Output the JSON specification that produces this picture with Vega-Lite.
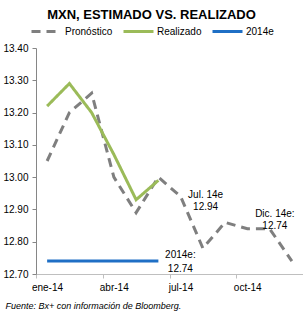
{
  "$schema": "https://vega.github.io/schema/vega-lite/v6.json",
  "width": 267,
  "height": 226,
  "autosize": {"type": "none"},
  "padding": {"left": 36, "top": 48, "right": 0, "bottom": 37},
  "background": "white",
  "config": {
    "font": "Liberation Sans",
    "view": {"stroke": null},
    "axis": {"labelFont": "Liberation Sans", "labelColor": "#000000", "labelFontSize": 10, "grid": false, "labelOverlap": false}
  },
  "title": {
    "text": "MXN, ESTIMADO VS. REALIZADO",
    "font": "Liberation Sans",
    "fontSize": 13,
    "fontWeight": "bold",
    "color": "#000000",
    "anchor": "middle",
    "frame": "group",
    "dx": -18,
    "dy": 11,
    "offset": 4
  },
  "datasets": {
    "series": [
      {"mes": 1, "serie": "Pronóstico", "valor": 13.05},
      {"mes": 2, "serie": "Pronóstico", "valor": 13.20},
      {"mes": 3, "serie": "Pronóstico", "valor": 13.26},
      {"mes": 4, "serie": "Pronóstico", "valor": 13.00},
      {"mes": 5, "serie": "Pronóstico", "valor": 12.89},
      {"mes": 6, "serie": "Pronóstico", "valor": 13.00},
      {"mes": 7, "serie": "Pronóstico", "valor": 12.94},
      {"mes": 8, "serie": "Pronóstico", "valor": 12.78},
      {"mes": 9, "serie": "Pronóstico", "valor": 12.86},
      {"mes": 10, "serie": "Pronóstico", "valor": 12.84},
      {"mes": 11, "serie": "Pronóstico", "valor": 12.84},
      {"mes": 12, "serie": "Pronóstico", "valor": 12.74},
      {"mes": 1, "serie": "Realizado", "valor": 13.22},
      {"mes": 2, "serie": "Realizado", "valor": 13.29},
      {"mes": 3, "serie": "Realizado", "valor": 13.20},
      {"mes": 4, "serie": "Realizado", "valor": 13.07},
      {"mes": 5, "serie": "Realizado", "valor": 12.93},
      {"mes": 6, "serie": "Realizado", "valor": 12.99},
      {"mes": 1, "serie": "2014e", "valor": 12.74},
      {"mes": 2, "serie": "2014e", "valor": 12.74},
      {"mes": 3, "serie": "2014e", "valor": 12.74},
      {"mes": 4, "serie": "2014e", "valor": 12.74},
      {"mes": 5, "serie": "2014e", "valor": 12.74},
      {"mes": 6, "serie": "2014e", "valor": 12.74}
    ],
    "notas": [
      {"nota": "jul", "mes": 7, "valor": 12.94, "texto": ["Jul. 14e", "12.94"]},
      {"nota": "dic", "mes": 12, "valor": 12.74, "texto": ["Dic. 14e:", "12.74"]},
      {"nota": "anual", "mes": 6, "valor": 12.74, "texto": ["2014e:", "12.74"]}
    ]
  },
  "encoding": {
    "x": {
      "field": "mes",
      "type": "quantitative",
      "scale": {"domain": [0.5, 12.5], "nice": false, "zero": false},
      "axis": {
        "values": [0.5, 3.5, 6.5, 9.5],
        "labelExpr": "datum.value < 1 ? 'ene-14' : datum.value < 4 ? 'abr-14' : datum.value < 7 ? 'jul-14' : 'oct-14'",
        "labelOffset": 11,
        "labelAlign": "center",
        "labelFlush": false,
        "labelOverlap": false,
        "labelPadding": 4,
        "tickSize": 4,
        "tickColor": "#bfbfbf",
        "domainColor": "#bfbfbf",
        "domainWidth": 1,
        "title": "Fuente: Bx+ con información de Bloomberg.",
        "titleFont": "Liberation Sans",
        "titleFontSize": 9,
        "titleFontStyle": "italic",
        "titleFontWeight": "normal",
        "titleColor": "#000000",
        "titleAnchor": "start",
        "titleAlign": "left",
        "titleBaseline": "middle",
        "titleX": -31,
        "titleY": 31
      }
    },
    "y": {
      "field": "valor",
      "type": "quantitative",
      "scale": {"domain": [12.7, 13.4], "nice": false, "zero": false},
      "axis": {
        "values": [12.7, 12.8, 12.9, 13.0, 13.1, 13.2, 13.3, 13.4],
        "format": ".2f",
        "labelOverlap": false,
        "labelBound": false,
        "labelSeparation": 0,
        "tickSize": 4,
        "tickColor": "#868686",
        "domainColor": "#868686",
        "labelPadding": 4,
        "title": null
      }
    }
  },
  "layer": [
    {
      "data": {"name": "series"},
      "mark": {"type": "line", "strokeWidth": 3},
      "encoding": {
        "color": {
          "field": "serie",
          "type": "nominal",
          "scale": {"domain": ["Pronóstico", "Realizado", "2014e"], "range": ["#7f7f7f", "#9bbb59", "#1f6fc5"]},
          "legend": {
            "orient": "none",
            "legendX": -6,
            "legendY": -33,
            "direction": "horizontal",
            "columns": 3,
            "gridAlign": "none",
            "title": null,
            "symbolType": "stroke",
            "symbolSize": 900,
            "symbolStrokeWidth": 3,
            "labelFontSize": 10,
            "labelFont": "Liberation Sans",
            "labelColor": "#000000",
            "labelOffset": 2,
            "columnPadding": 4
          }
        },
        "strokeDash": {
          "field": "serie",
          "type": "nominal",
          "scale": {"domain": ["Pronóstico", "Realizado", "2014e"], "range": [[9, 6], [1, 0], [1, 0]]},
          "legend": null
        }
      }
    },
    {
      "data": {"name": "notas"},
      "transform": [{"filter": "datum.nota == 'jul'"}],
      "mark": {"type": "text", "align": "center", "baseline": "middle", "dx": 25, "dy": -2, "fontSize": 10, "lineHeight": 12, "color": "#000000"},
      "encoding": {"text": {"field": "texto"}}
    },
    {
      "data": {"name": "notas"},
      "transform": [{"filter": "datum.nota == 'dic'"}],
      "mark": {"type": "text", "align": "center", "baseline": "middle", "dx": -17, "dy": -47, "fontSize": 10, "lineHeight": 12, "color": "#000000"},
      "encoding": {"text": {"field": "texto"}}
    },
    {
      "data": {"name": "notas"},
      "transform": [{"filter": "datum.nota == 'anual'"}],
      "mark": {"type": "text", "align": "center", "baseline": "middle", "dx": 22, "dy": -6, "fontSize": 10, "lineHeight": 14, "color": "#000000"},
      "encoding": {"text": {"field": "texto"}}
    }
  ]
}
